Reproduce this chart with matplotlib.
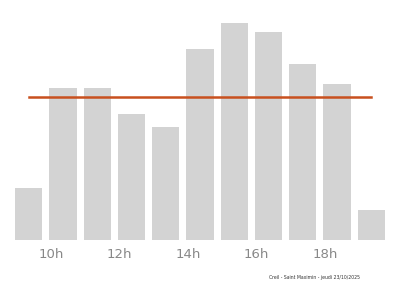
import matplotlib
matplotlib.use('Agg')

import numpy as np
import matplotlib.pyplot as plt

hours = [9, 10, 11, 12, 13, 14, 15, 16, 17, 18, 19]
values = [24, 70, 70, 58, 52, 88, 100, 96, 81, 72, 14]
average = 66
tick_hours = [10, 12, 14, 16, 18]
tick_labels = ['10h', '12h', '14h', '16h', '18h']
caption = 'Creil - Saint Maximin - jeudi 23/10/2025'

fig = plt.figure(figsize=(4, 2.86), dpi=100)
ax = fig.add_axes([0.0375, 1 - 240/286, 0.925, 217/286])
ax.bar(hours, values, width=0.8, color='#d3d3d3')
ax.plot([hours[0], hours[-1]], [average, average], color='#c8501e', linewidth=1.8)
ax.set_xlim(8.6, 19.4)
ax.set_ylim(0, 100)
ax.set_xticks(np.array(tick_hours) - 0.35)
ax.set_xticklabels(tick_labels, color='#888888', fontsize=9.5)
ax.tick_params(axis='x', length=0, pad=6)
ax.set_yticks([])
for s in ax.spines.values():
    s.set_visible(False)
fig.text(0.9, 0.028, caption, ha='right', va='center', fontsize=3.3, color='#333333')
fig.savefig('out.png', dpi=100)
